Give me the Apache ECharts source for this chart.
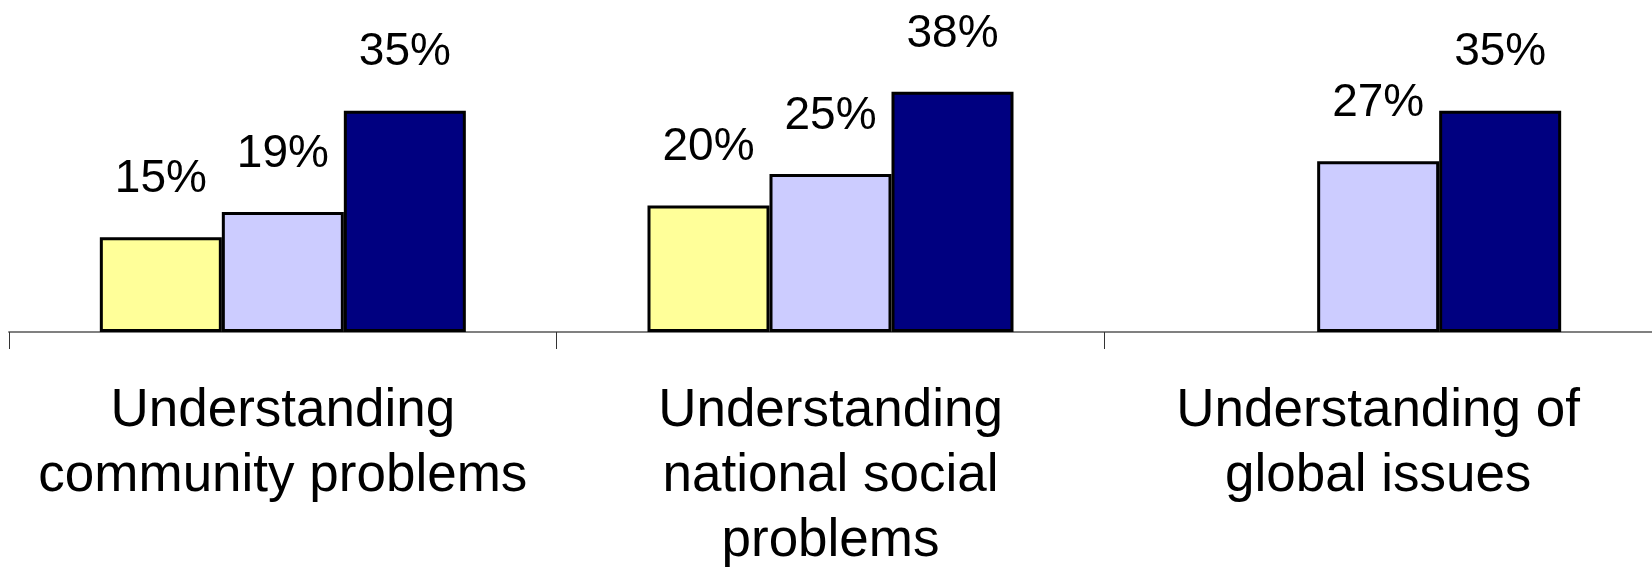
<!DOCTYPE html>
<html>
<head>
<meta charset="utf-8">
<title>Understanding problems</title>
<script src="https://cdn.jsdelivr.net/npm/echarts@6/dist/echarts.min.js"></script>
<style>
  html, body { margin: 0; padding: 0; background: #fff; }
  #mainContainer { width: 1652px; height: 574px; }
</style>
</head>
<body>
<div id="mainContainer"></div>
<script>
// 数据
const categories = [
  'Understanding\ncommunity problems',
  'Understanding\nnational social\nproblems',
  'Understanding of\nglobal issues'
]
const seriesA = [15, 20, null]
const seriesB = [19, 25, 27]
const seriesC = [35, 38, 35]

const colors = ['#FFFF99', '#CCCCFF', '#000080']
const font = '"Liberation Sans", Arial, sans-serif'

// 柱子的公共配置
function makeBar(data, color) {
  return {
    type: 'bar',
    data: data,
    barWidth: 122,
    barGap: '0%',
    itemStyle: {
      color: color,
      borderColor: '#000',
      borderWidth: 3
    },
    label: {
      show: true,
      position: 'top',
      distance: 35,
      color: '#000',
      fontSize: 46,
      fontFamily: font,
      formatter: p => p.value + '%'
    }
  }
}

const chart = echarts.init(document.getElementById('mainContainer'), null, { renderer: 'canvas' })

chart.setOption({
  animation: false,
  grid: { left: 9, width: 1645, top: 16, bottom: 242 },
  xAxis: {
    type: 'category',
    data: categories,
    axisLine: { lineStyle: { color: '#808080', width: 2 } },
    axisTick: { show: true, length: 17, lineStyle: { color: '#333', width: 1 } },
    axisLabel: {
      interval: 0,
      margin: 47,
      color: '#000',
      fontSize: 53,
      lineHeight: 65,
      fontFamily: font
    }
  },
  yAxis: { type: 'value', min: 0, max: 50, show: false },
  series: [
    makeBar(seriesA, colors[0]),
    makeBar(seriesB, colors[1]),
    makeBar(seriesC, colors[2])
  ]
})
</script>
</body>
</html>
